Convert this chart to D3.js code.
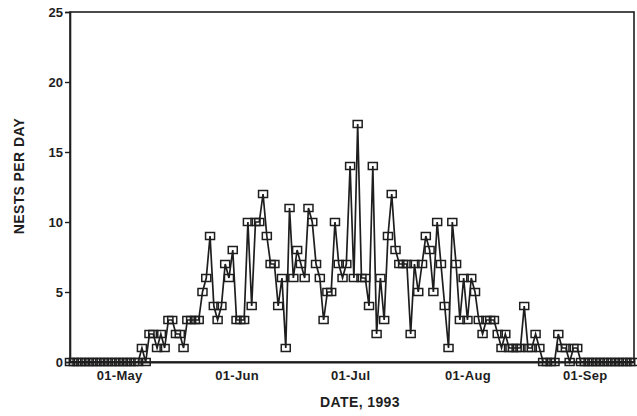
<!DOCTYPE html>
<html>
<head>
<meta charset="utf-8">
<script src="https://cdn.jsdelivr.net/npm/d3@7"></script>
<style>
  html, body { margin: 0; padding: 0; background: #fff; }
  svg { display: block; }
  text { font-family: "Liberation Sans", Arial, sans-serif; fill: #1e1e1e; }
</style>
</head>
<body>
<svg id="chart" width="637" height="416"></svg>
<script>
// daily nest counts, 18 Apr - 14 Sep 1993
const startDate = "1993-04-18";
const aprNests = [0,0,0,0,0,0,0,0,0,0,0,0,0];
const mayNests = [0,0,0,0,0,0,1,0,2,2,1,2,1,3,3,2,2,1,3,3,3,3,5,6,9,4,3,4,7,6,8];
const junNests = [3,3,3,10,4,10,10,12,9,7,7,4,6,1,11,6,8,7,6,11,10,7,6,3,5,5,10,7,6,7];
const julNests = [14,6,17,6,6,4,14,2,6,3,9,12,8,7,7,7,2,7,5,7,9,8,5,10,7,4,1,10,7,3,6];
const augNests = [3,6,5,3,2,3,3,3,2,1,2,1,1,1,1,4,1,1,2,1,0,0,0,0,2,1,1,0,1,1,0];
const sepNests = [0,0,0,0,0,0,0,0,0,0,0,0,0,0];

const xTickDates = ["1993-05-01", "1993-06-01", "1993-07-01", "1993-08-01", "1993-09-01"];
const yTicks = [0, 5, 10, 15, 20, 25];

const width = 637, height = 416;
const margin = { top: 12, right: 3, bottom: 54, left: 70 };
const ink = "#1e1e1e";

const parse = d3.timeParse("%Y-%m-%d");
const start = parse(startDate);
const counts = [...aprNests, ...mayNests, ...junNests, ...julNests, ...augNests, ...sepNests];
const data = counts.map((v, i) => ({ date: d3.timeDay.offset(start, i), value: v }));

const x = d3.scaleTime()
    .domain([start, d3.timeDay.offset(start, counts.length - 1)])
    .range([margin.left, width - margin.right]);

const y = d3.scaleLinear()
    .domain([0, 25])
    .range([height - margin.bottom, margin.top]);

const $svg = d3.select("#chart");

// frame
$svg.append("rect")
    .attr("x", margin.left)
    .attr("y", margin.top)
    .attr("width", width - margin.left - margin.right)
    .attr("height", height - margin.top - margin.bottom)
    .attr("fill", "none")
    .attr("stroke", ink)
    .attr("stroke-width", 1.6);

// y axis
const $yAxis = $svg.append("g")
    .attr("transform", `translate(${margin.left},0)`)
    .call(d3.axisLeft(y).tickValues(yTicks).tickSize(5).tickPadding(2));
$yAxis.select(".domain").attr("stroke", ink).attr("stroke-width", 1.6);
$yAxis.selectAll(".tick line").attr("stroke", ink).attr("stroke-width", 1.4);
$yAxis.selectAll(".tick text")
    .attr("font-size", 13).attr("font-weight", "bold").attr("fill", ink);

// x axis
const $xAxis = $svg.append("g")
    .attr("transform", `translate(0,${height - margin.bottom})`)
    .call(d3.axisBottom(x)
        .tickValues(xTickDates.map(parse))
        .tickSize(0)
        .tickPadding(9)
        .tickFormat(d3.timeFormat("%d-%b")));
$xAxis.select(".domain").attr("stroke", ink).attr("stroke-width", 2);
$xAxis.selectAll(".tick text")
    .attr("font-size", 13).attr("font-weight", "bold").attr("fill", ink)
    .attr("letter-spacing", 0.3);

// axis titles
$svg.append("text")
    .attr("transform", "translate(24,176) rotate(-90)")
    .attr("text-anchor", "middle")
    .attr("font-size", 14)
    .attr("font-weight", "bold")
    .attr("letter-spacing", 0.4)
    .text("NESTS PER DAY");

$svg.append("text")
    .attr("x", 360)
    .attr("y", 407)
    .attr("text-anchor", "middle")
    .attr("font-size", 14)
    .attr("font-weight", "bold")
    .attr("letter-spacing", 0.4)
    .text("DATE, 1993");

// series
const line = d3.line()
    .x(d => x(d.date))
    .y(d => y(d.value));

$svg.append("path")
    .datum(data)
    .attr("fill", "none")
    .attr("stroke", ink)
    .attr("stroke-width", 1.7)
    .attr("d", line);

// open square markers (connecting line shows through)
$svg.append("g")
    .selectAll("rect")
    .data(data)
    .join("rect")
      .attr("x", d => x(d.date) - 4.5)
      .attr("y", d => y(d.value) - 3.5)
      .attr("width", 9)
      .attr("height", 7)
      .attr("fill", "none")
      .attr("stroke", ink)
      .attr("stroke-width", 1.5);
</script>
</body>
</html>
